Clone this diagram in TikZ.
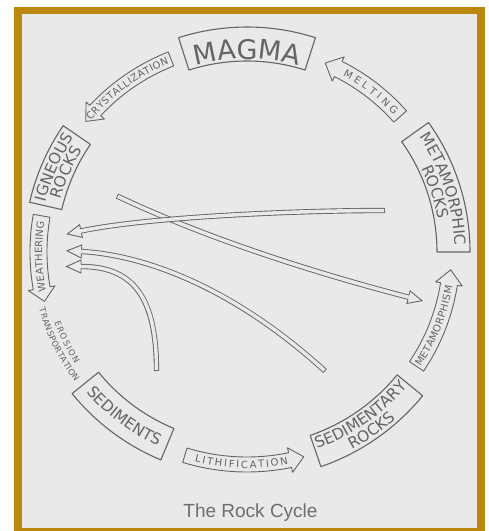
\documentclass[tikz,border=0pt]{standalone}
\usepackage{fontspec}
\newfontfamily\letterfont{DejaVu Sans}
\newfontfamily\capfont{Liberation Sans}
\usetikzlibrary{calc,decorations.text}
\usepackage{xcolor}
\definecolor{paper}{RGB}{233,233,234}
\definecolor{gold}{RGB}{186,136,12}
\definecolor{ink}{RGB}{100,100,100}
\definecolor{capgray}{RGB}{110,110,110}

% annular sector: from angle, to angle, inner r, outer r
\newcommand{\rockbox}[4]{%
  \draw[rockline] (#1:#3) -- (#1:#4) arc[start angle=#1, end angle=#2, radius=#4]
    -- (#2:#3) arc[start angle=#2, end angle=#1, radius=#3] -- cycle;}
% curved band arrow: tail, head base, tip (angles), inner r, outer r
\newcommand{\ringarrow}[5]{%
  \draw[ringline] (#1:#4) -- (#1:#5) arc[start angle=#1, end angle=#2, radius=#5]
    -- (#2:{#5+5}) -- (#3:{(#4+#5)/2}) -- (#2:{#4-5})
    -- (#2:#4) arc[start angle=#2, end angle=#1, radius=#4] -- cycle;}
% text on an arc: from, to, baseline r, size, align, text
\newcommand{\arclabel}[6]{%
  \path[decorate, decoration={text along path, text align=#5,
    text={|\letterfont\fontsize{#4}{#4}\selectfont\color{ink}|#6}}]
    (#1:#3) arc[start angle=#1, end angle=#2, radius=#3];}
% open head at the end of a hollow arrow: base, tip
\newcommand{\hollowhead}[2]{%
  \fill[paper] ($(#1)!6.5pt!90:(#2)$) -- (#2) -- ($(#1)!6.5pt!-90:(#2)$) -- cycle;
  \draw[ink, line width=0.9pt] ($(#1)!2.2pt!90:(#2)$) -- ($(#1)!6.5pt!90:(#2)$) -- (#2)
    -- ($(#1)!6.5pt!-90:(#2)$) -- ($(#1)!2.2pt!-90:(#2)$);}

\begin{document}
\begin{tikzpicture}[x=1pt, y=1pt,
  rockline/.style={draw=ink, line width=1.1pt, line join=round},
  ringline/.style={draw=ink, line width=0.9pt, line join=round},
  band/.style={draw=ink, line width=5.3pt,
    postaction={draw=paper, line width=3.5pt, shorten <=0.9pt}}]
\useasboundingbox (-247,-279) rectangle (242,252);
\fill[white] (-247,-279) rectangle (242,252);
\fill[gold] (-233,-279) rectangle (238,245);
\fill[paper] (-225,-276) rectangle (230,238);

% the ring
\rockbox{72.3}{107.7}{191}{225}
\arclabel{107}{73}{193}{27}{center}{MAGMA}
\rockbox{145.5}{167.1}{190}{223}
\arclabel{167}{145.5}{207.5}{15.5}{center}{IGNEOUS}
\arclabel{167}{145.5}{193.5}{15.5}{center}{ROCKS}
\rockbox{0}{35.5}{190}{223}
\arclabel{35.5}{0}{207.5}{15.5}{center}{METAMORPHIC}
\arclabel{35.5}{0}{193.5}{15.5}{center}{ROCKS}
\rockbox{-71}{-39.3}{194}{227}
\arclabel{-71}{-39.3}{209}{15.5}{center}{SEDIMENTARY}
\arclabel{-71}{-39.3}{223.5}{15.5}{center}{ROCKS}
\rockbox{-141}{-112.5}{191}{225}
\arclabel{-141}{-112.5}{213.5}{15.5}{center}{SEDIMENTS}

\ringarrow{111.5}{137}{141}{200}{215}
\arclabel{140}{112.5}{203.8}{10}{fit to path}{CRYSTALLIZATION}
\ringarrow{41.5}{63.5}{67.5}{196}{213}
\arclabel{61.5}{43}{200.8}{10}{fit to path}{M E L T I N G}
\ringarrow{-34}{-9}{-5}{196}{213}
\arclabel{-33.5}{-9.5}{208.2}{10}{fit to path}{METAMORPHISM}
\ringarrow{-107}{-78.3}{-74.5}{205}{220}
\arclabel{-104}{-79}{216.2}{10}{fit to path}{LITHIFICATION}
\ringarrow{170}{190}{193.7}{200}{217}
\arclabel{191}{171.5}{204.8}{10}{fit to path}{WEATHERING}
\arclabel{200}{213}{205}{8.5}{fit to path}{EROSION}
\arclabel{195.3}{217.1}{215.6}{8.5}{fit to path}{TRANSPORTATION}

% short cuts across the circle
\coordinate (sedT) at (78,-119);   \coordinate (sedB) at (-165.5,0.5); \coordinate (sedH) at (-180,1.2);
\coordinate (dirtT) at (-90.5,-119); \coordinate (dirtB) at (-166,-14.5); \coordinate (dirtH) at (-180.5,-14.5);
\coordinate (ignT) at (-130,56);   \coordinate (ignB) at (161.5,-45.2); \coordinate (ignH) at (175,-48.7);
\coordinate (metaT) at (138,41.5); \coordinate (metaB) at (-166,21);    \coordinate (metaH) at (-179.7,18);
\draw[band] (dirtT) .. controls +(0,73) and +(53,0) .. (dirtB);
\hollowhead{dirtB}{dirtH}
\draw[band] (sedT) .. controls +(-110,100) and +(40,-2) .. (sedB);
\hollowhead{sedB}{sedH}
\draw[band] (ignT) .. controls +(95,-45) and +(-85,22) .. (ignB);
\hollowhead{ignB}{ignH}
\draw[band] (metaT) .. controls +(-100,0) and +(60,13) .. (metaB);
\hollowhead{metaB}{metaH}

\node[font=\capfont\fontsize{19}{19}\selectfont, text=capgray, anchor=base] (title) at (3.5,-265) {The Rock Cycle};
\end{tikzpicture}
\end{document}
